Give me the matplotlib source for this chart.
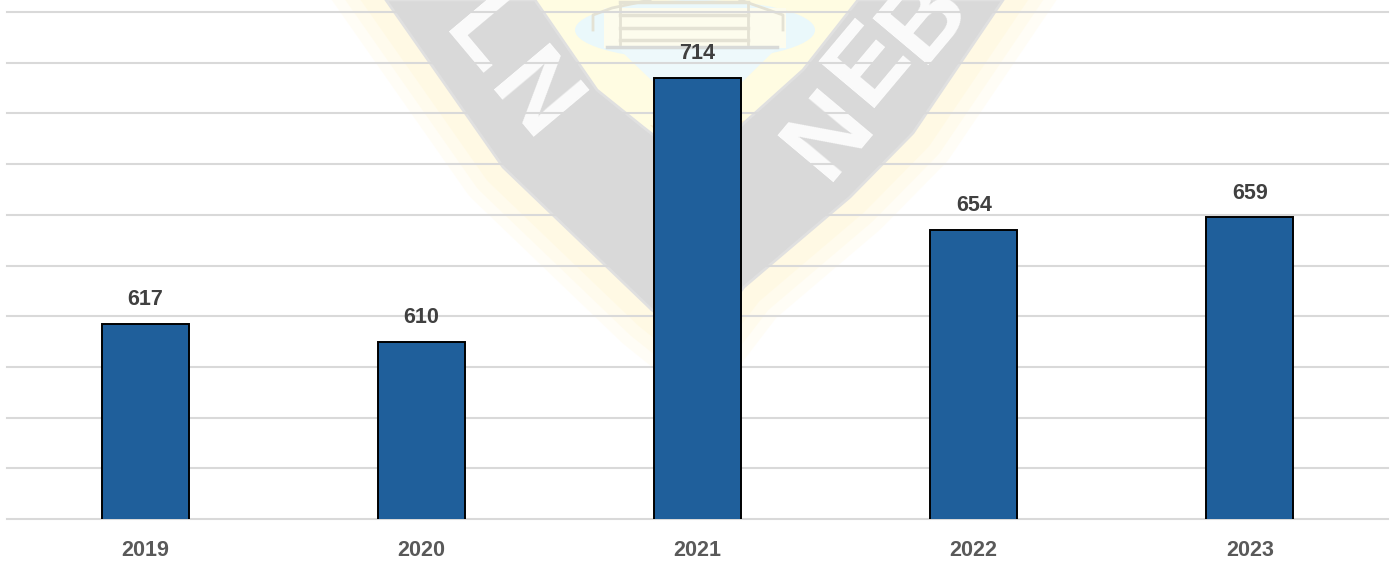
import matplotlib.pyplot as plt
from matplotlib.patches import Polygon, Ellipse

years = ['2019', '2020', '2021', '2022', '2023']
values = [617, 610, 714, 654, 659]
y_ticks = list(range(540, 741, 20))

W, H = 1398, 561
plt.rcParams['font.family'] = ['Liberation Sans', 'DejaVu Sans']

fig = plt.figure(figsize=(W / 100, H / 100), dpi=100, facecolor='white')


# background seal, drawn in pixel coordinates
def draw_seal():
    bg = fig.add_axes([0, 0, 1, 1], zorder=0)
    bg.set_xlim(0, W)
    bg.set_ylim(H, 0)
    bg.axis('off')

    outer = [(386, 0), (503, 167), (652, 310), (698, 347), (744, 287), (850, 197), (913, 133), (1003, 0)]
    inner = [(858, 0), (803, 70), (744, 123), (698, 170), (643, 127), (597, 90), (535, 0)]

    # pale yellow halo, fading outwards
    ox, oy = zip(*outer)
    for lw, a in [(64, 0.10), (48, 0.12), (30, 0.14)]:
        bg.plot(ox, oy, color='#fff3b0', lw=lw, alpha=a, solid_joinstyle='round', zorder=0.5)
    bg.add_patch(Polygon(inner, fc='#fffce2', ec='none', zorder=1))

    # sky in the middle
    bg.add_patch(Ellipse((695, 30), 240, 60, fc='#eaf8fb', ec='none', zorder=1))
    bg.add_patch(Polygon([(620, 50), (775, 50), (698, 125)], fc='#eef9fb', ec='none', zorder=1))
    bg.add_patch(Polygon([(604, 8), (786, 8), (786, 48), (604, 48)], fc='#fdfced', ec='none', zorder=1))
    bg.add_patch(Polygon([(650, 125), (675, 150), (698, 170), (680, 130)], fc='#f8e6c0', ec='none', alpha=0.7, zorder=1))
    bg.add_patch(Polygon([(745, 120), (720, 150), (698, 170), (712, 130)], fc='#f8e6c0', ec='none', alpha=0.7, zorder=1))

    # grey ribbon
    bg.add_patch(Polygon(outer + inner, fc='#d9d9d9', ec='#e0e0e0', lw=2, zorder=1.5))

    # building
    c = '#e4e2d4'
    bg.plot([593, 593, 612, 650], [30, 15, 8, 0], color=c, lw=2)
    bg.plot([783, 783, 763, 740], [30, 15, 8, 0], color=c, lw=2)
    for y in [2, 15, 28, 40]:
        bg.plot([620, 748], [y, y], color=c, lw=2.5)
    bg.plot([620, 620], [2, 44], color=c, lw=2)
    bg.plot([748, 748], [2, 44], color=c, lw=2)
    bg.plot([607, 777], [47, 47], color='#d8dad8', lw=2.5)

    # seal lettering
    for txt, x, y, rot in [('L', 483, 38, -50), ('N', 532, 100, -50),
                           ('N', 830, 135, 50), ('E', 870, 63, 50), ('B', 925, 18, 50)]:
        bg.text(x, y, txt, color='#fbfbfb', fontsize=76, fontweight='bold', rotation=rot,
                rotation_mode='anchor', ha='center', va='center', zorder=3)


draw_seal()

ax = fig.add_axes([7 / W, 1 - 519 / H, (1388 - 7) / W, (519 - 12) / H], zorder=1)
ax.patch.set_alpha(0)

bars = ax.bar(years, values, width=0.315, color='#1f5f9b', edgecolor='black', linewidth=1.4, zorder=3)
ax.set_xlim(-0.5, 4.5)
ax.set_ylim(540, 740)
ax.set_yticks(y_ticks)
ax.grid(axis='y', color='#d9d9d9', linewidth=1.5, zorder=1, clip_on=False)
ax.set_axisbelow(True)
ax.tick_params(axis='both', length=0)
ax.tick_params(axis='y', labelleft=False)
ax.tick_params(axis='x', pad=15, labelsize=15.5, labelcolor='#595959')
for lab in ax.get_xticklabels():
    lab.set_fontweight('bold')
for s in ax.spines.values():
    s.set_visible(False)

for b, v in zip(bars, values):
    ax.annotate(str(v), (b.get_x() + b.get_width() / 2, v), xytext=(0, 17.5), textcoords='offset points',
                ha='center', va='center', fontsize=15.5, fontweight='bold', color='#404040')

fig.savefig('out.png', dpi=100)
